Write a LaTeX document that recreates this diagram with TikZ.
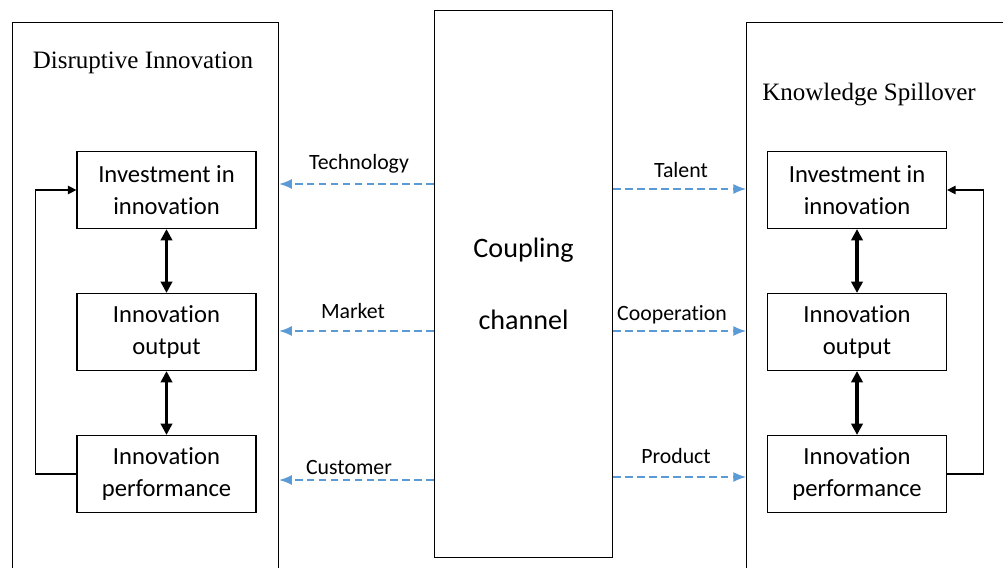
\documentclass[tikz,border=0pt]{standalone}
\usepackage{fontspec}
\setmainfont{Carlito}[Ligatures=NoCommon]
\newfontfamily\titlefont{Liberation Serif}
\usetikzlibrary{positioning, arrows.meta}
\definecolor{linkblue}{RGB}{91,155,213}
\tikzset{
x=0.025cm, y=0.025cm, % one unit = one pixel of the layout
frame/.style={draw, line width=0.8pt, anchor=north west}, % the three tall boxes
stage/.style={draw, line width=0.8pt, minimum width=4.475cm, minimum height=1.925cm, align=center, font=\fontsize{17.5}{22.7}\selectfont}, % boxes inside each side
twoway/.style={line width=2.4pt, {Triangle[length=8pt,width=8pt]}-{Triangle[length=8pt,width=8pt]}}, % thick links between stages
feedback/.style={line width=0.8pt, -{Triangle[length=6pt,width=6pt]}}, % loop back to the top stage
channel/.style={linkblue, line width=0.9pt, dash pattern=on 5.5pt off 3pt, -{Latex[length=9pt,width=7pt]}}, % dashed coupling arrows
tag/.style={font=\fontsize{15.5}{18}\selectfont, inner sep=0pt}, % labels over the arrows
title/.style={font=\titlefont\fontsize{17.8}{20}\selectfont, inner sep=0pt},
}

\begin{document}
\begin{tikzpicture}
\useasboundingbox (0,0) rectangle (1003,567);

% tall boxes
\node[frame, minimum width=6.65cm, minimum height=14.5cm] at (12,545) (disr) {};
\node[frame, minimum width=7.5cm, minimum height=14.5cm] at (746,545) (know) {};
\node[frame, minimum width=4.45cm, minimum height=13.675cm, font=\fontsize{20}{51}\selectfont, align=center] at (434,557) (chan) {Coupling\\channel};

\node[title] at (143,504) (disrT) {Disruptive Innovation};
\node[title] at (869,472) (knowT) {Knowledge Spillover};

% left side stages
\node[stage] at (166.5,377) (invL) {Investment in\\innovation};
\node[stage] at (166.5,235) (outL) {Innovation\\output};
\node[stage] at (166.5,93) (perfL) {Innovation\\performance};

% right side stages
\node[stage] at (857,377) (invR) {Investment in\\innovation};
\node[stage] at (857,235) (outR) {Innovation\\output};
\node[stage] at (857,93) (perfR) {Innovation\\performance};

\draw[twoway] (invL) -- (outL);
\draw[twoway] (outL) -- (perfL);
\draw[twoway] (invR) -- (outR);
\draw[twoway] (outR) -- (perfR);

\draw[feedback] (perfL.west) -- ++(-41,0) |- (invL.west);
\draw[feedback] (perfR.east) -- ++(36,0) |- (invR.east);

% coupling arrows
\draw[channel] (chan.west |- 0,383) -- (disr.east |- 0,383);
\draw[channel] (chan.west |- 0,236) -- (disr.east |- 0,236);
\draw[channel] (chan.west |- 0,87) -- (disr.east |- 0,87);
\draw[channel] (chan.east |- 0,378) -- (know.west |- 0,378);
\draw[channel] (chan.east |- 0,236) -- (know.west |- 0,236);
\draw[channel] (chan.east |- 0,90) -- (know.west |- 0,90);

\node[tag] at (359,403) (tech) {Technology};
\node[tag] at (353,256) (mark) {Market};
\node[tag] at (349,99) (cust) {Customer};
\node[tag] at (681,397) (tal) {Talent};
\node[tag] at (672,252) (coop) {Cooperation};
\node[tag] at (676,111) (prod) {Product};

\end{tikzpicture}
\end{document}
